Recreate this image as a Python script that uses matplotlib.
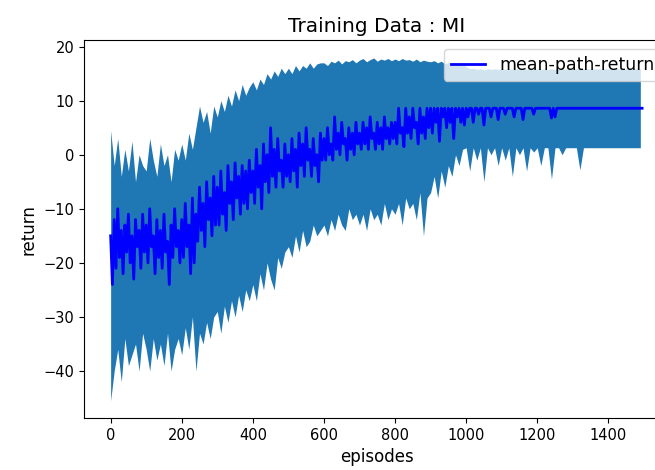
import numpy as np
import matplotlib.pyplot as plt

episodes_band = np.arange(0, 1500, 10)
episodes_mean = np.arange(0, 1500, 5)

mean_return = np.array([
    -15, -24, -12, -21, -10, -19, -14, -22, -13, -18, -11, -20, -15, -23, -12, -17, -14, -21, -11, -18,
    -13, -20, -10, -17, -15, -22, -12, -19, -14, -21, -11, -18, -16, -24, -13, -19, -10, -17, -14, -20,
    -12, -19, -9, -17, -13, -22, -8, -20, -11, -16, -6, -14, -9, -17, -5, -12, -8, -15, -4, -13,
    -6, -13, -3, -11, -7, -14, -2, -9, -5, -12, -1.5, -8, -4, -11, -2, -9, -3, -10, -1, -7,
    -3, -9, 1, -6, -2, -10, 2, -5, 0, -7, 5, -4, 1, -6, 3, -3, -1, -6, 2, -4,
    0, -5, 3, -3, 1, -6, 4, -2, 2, -4, 5, -1, 1, -4, 3, -2, 0, -5, 4, -1,
    3, -1, 5, 0, 2, -1, 7, 1, 4, 0, 6, 2, 3, -1, 5, 1, 4, 0, 6, 2,
    4, 1, 6, 2, 5, 1, 7, 3, 4, 1, 6, 2, 5, 1, 7, 3, 5, 2, 6, 3,
    6, 2, 8.6, 4, 5, 1.5, 8.6, 4, 7, 3, 8.6, 5, 6, 2, 8.6, 4, 7, 3, 8.6, 5,
    8.6, 4, 8.6, 6, 8.6, 2.5, 8.6, 7, 8.6, 5, 8.6, 6, 8.6, 3, 8.6, 7, 8.6, 6, 8.6, 5.5,
    8.6, 7, 8.6, 8.6, 6, 8.6, 8.6, 7.5, 8.6, 8.6, 5.5, 8.6, 8.6, 8.6, 7, 8.6, 8.6, 8.6, 6.5, 8.6,
    8.6, 8.6, 7.5, 8.6, 8.6, 8.6, 8.6, 7, 8.6, 8.6, 8.6, 8.6, 6.5, 8.6, 8.6, 8.6, 8.6, 8.6, 7.5, 8.6,
    8.6, 8.6, 8.6, 8.6, 8.6, 8.6, 8.6, 8.6, 6.8, 8.6, 7, 8.6, 8.6, 8.6, 8.6, 8.6, 8.6, 8.6, 8.6, 8.6,
    8.6, 8.6, 8.6, 8.6, 8.6, 8.6, 8.6, 8.6, 8.6, 8.6, 8.6, 8.6, 8.6, 8.6, 8.6, 8.6, 8.6, 8.6, 8.6, 8.6,
    8.6, 8.6, 8.6, 8.6, 8.6, 8.6, 8.6, 8.6, 8.6, 8.6, 8.6, 8.6, 8.6, 8.6, 8.6, 8.6, 8.6, 8.6, 8.6, 8.6,
])

# mean + std
upper_return = np.array([
    4.5, -2, 3, -4, 1, -3, 2.5, -5, 0, -2,
    -3, 3, -1, -4, 2, -2, 0, -5, 1, -1,
    2, -1, 4, 1, 5, 9, 6, 8, 4, 9,
    7, 10, 8, 11, 9, 12, 10, 13, 11, 12.5,
    13.5, 12, 14, 13, 15, 14, 15.5, 14.5, 16, 15,
    16, 15, 16.5, 15.5, 16.5, 16, 17, 16, 16.8, 17,
    17, 16.5, 17.3, 17, 17.5, 16.8, 17.4, 17.2, 17.6, 17,
    17.5, 17.8, 17.2, 17.6, 17.9, 17.3, 17.7, 17.5, 17.8, 17.4,
    17.7, 17.4, 17.8, 17.5, 17.6, 17.3, 17.7, 17.2, 17.5, 17.3,
    17.2, 17.4, 17, 17.3, 16.8, 17.1, 16.9, 17, 16.5, 16.8,
    16.3, 15.9, 16, 15.8, 15.9, 15.7, 15.9, 15.8, 15.9, 15.8,
    15.9, 15.8, 15.9, 15.8, 15.9, 15.8, 15.9, 15.8, 15.9, 15.8,
    15.9, 15.8, 15.9, 15.8, 15.9, 15.8, 15.9, 15.8, 15.9, 15.8,
    15.9, 15.9, 15.9, 15.9, 15.9, 15.9, 15.9, 15.9, 15.9, 15.9,
    15.9, 15.9, 15.9, 15.9, 15.9, 15.9, 15.9, 15.9, 15.9, 15.9,
])

# mean - std
lower_return = np.array([
    -45.5, -40, -36, -42, -34, -39, -37, -35, -40, -33,
    -36, -40, -34, -38, -35, -39, -33, -40, -36, -34,
    -37, -32, -36, -30, -40, -33, -35, -31, -34, -30,
    -29, -33, -28, -31, -27, -30, -26, -29, -25, -27,
    -24, -27, -22, -25, -20, -23, -25, -19, -21, -18,
    -17, -19, -15, -18, -14, -17, -16, -13, -15, -14,
    -13, -15, -12, -14, -11, -13, -14, -10, -12, -11,
    -13, -11, -14, -10, -12, -11, -13, -9, -12, -10,
    -11, -9, -13, -8, -10, -9, -12, -7, -15, -8,
    -7, -4, -8, -3, -6, -2, -4, 0, -2, 1,
    1.3, -3, 1.3, -1, 1.3, -5, 1.3, 0, 1.3, -2,
    1.3, -1, 1.3, -4, 1.3, 0, 1.3, -3, 1.3, 0.5,
    1.3, -2, 1.3, 1.3, -4.5, 1.3, 1.3, 0, 1.3, 1.3,
    1.3, 1.3, -2.8, 1.3, 1.3, 1.3, 1.3, 1.3, 1.3, 1.3,
    1.3, 1.3, 1.3, 1.3, 1.3, 1.3, 1.3, 1.3, 1.3, 1.3,
])

fig = plt.figure(figsize=(6.55, 4.70), dpi=100)
ax = fig.add_axes([0.1282, 0.1106, 0.895, 0.804])

ax.fill_between(episodes_band, lower_return, upper_return, color="#1f77b4", linewidth=0)
ax.plot(episodes_mean, mean_return, color="blue", linewidth=2, label="mean-path-return")

ax.set_xlim(-75, 1574)
ax.set_ylim(-48.7, 21.2)
ax.set_title("Training Data : MI", fontsize=14.5)
ax.set_xlabel("episodes", fontsize=12)
ax.set_ylabel("return", fontsize=12)
ax.tick_params(labelsize=10.5)
ax.legend(loc="upper right", fontsize=12.5)

fig.savefig("out.png", dpi=100)
